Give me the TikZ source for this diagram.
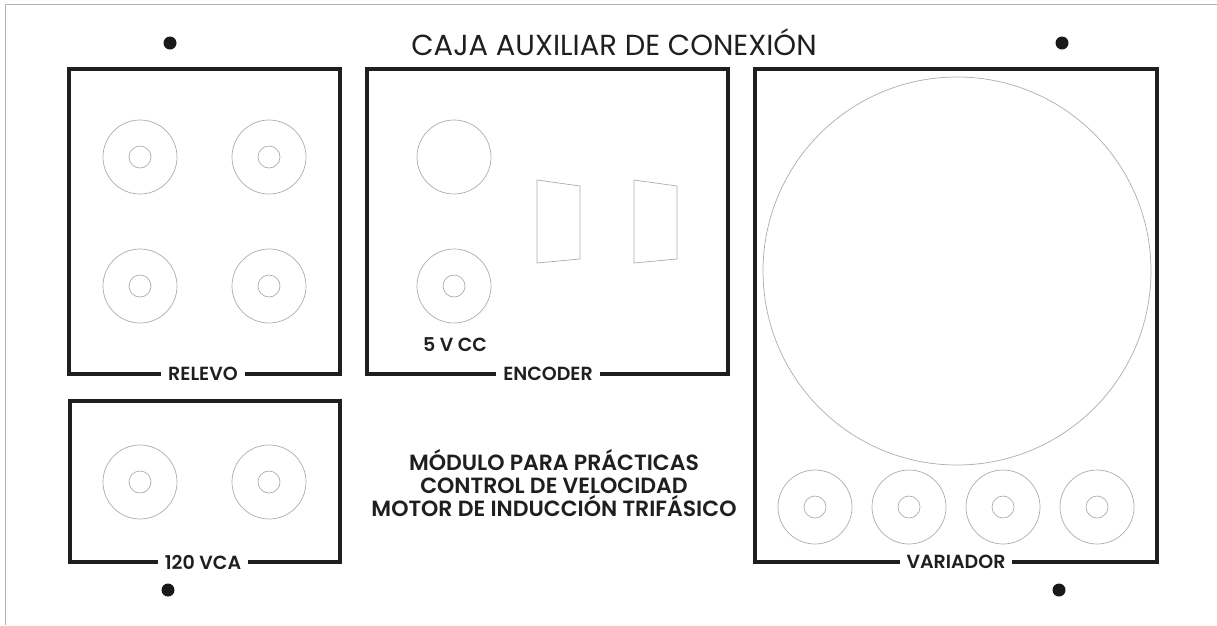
\documentclass[tikz,border=0pt]{standalone}
\usepackage{fontspec}
\setmainfont{Poppins}
\newfontfamily\medfont{Poppins SemiBold}
\usetikzlibrary{calc}

\tikzset{
  panel/.style={draw=black!88, line width=4.5pt},
  jack/.style={draw=black!32, line width=0.7pt},
  tag/.style={fill=white, inner xsep=7pt, inner ysep=1pt, text=black!88,
    font=\medfont\fontsize{19}{19}\selectfont},
  screw/.style={fill=black!90}
}

\begin{document}
\begin{tikzpicture}[x=1pt,y=-1pt]
\useasboundingbox (0,0) rectangle (1217,625);
\fill[white] (0,0) rectangle (1217,625);
\draw[black!30, line width=1pt] (5,625) -- (5,4) -- (1217,4);

% corners of the four panels
\coordinate (Rnw) at (69,69);
\coordinate (Rse) at (340,374);
\coordinate (Enw) at (367,69);
\coordinate (Ese) at (728,374);
\coordinate (Vnw) at (70,401);
\coordinate (Vse) at (340,562);
\coordinate (Dnw) at (755,69);
\coordinate (Dse) at (1157,562);

\draw[panel] (Rnw) rectangle (Rse);
\draw[panel] (Enw) rectangle (Ese);
\draw[panel] (Vnw) rectangle (Vse);
\draw[panel] (Dnw) rectangle (Dse);

% screws
\fill[screw] (170,43) circle (6.5pt);
\fill[screw] (1062,43) circle (6.5pt);
\fill[screw] (168,590) circle (6.5pt);
\fill[screw] (1059,590) circle (6.5pt);

% banana jacks
\foreach \x/\y in {140/157, 269/157, 140/286, 269/286,
                   140/482, 269/482, 454/286,
                   815/507, 909/507, 1003/507, 1097/507}
{
  \draw[jack] (\x,\y) circle (37pt);
  \draw[jack] (\x,\y) circle (11pt);
}
\draw[jack] (454,157) circle (37pt);

% connectors of the encoder
\foreach \x in {537,634}
  \draw[jack] (\x,180) -- (\x+43,186) -- (\x+43,259) -- (\x,263) -- cycle;

% speed drive display
\draw[jack] (957,271) circle (194pt);

% labels
\node[font=\fontsize{29}{29}\selectfont, text=black!88] (title) at (614,42) {CAJA AUXILIAR DE CONEXIÓN};
\node[tag] (relevo) at (203,374) {RELEVO};
\node[tag] (encoder) at (548,374) {ENCODER};
\node[tag] (vca) at (203,562) {120 VCA};
\node[tag] (variador) at (956,562) {VARIADOR};
\node[font=\medfont\fontsize{19}{19}\selectfont, text=black!88] (cc) at (455,345) {5 V CC};
\node[align=center, text=black!88, font=\medfont\fontsize{22}{23}\selectfont] (modulo) at (554,483)
  {MÓDULO PARA PRÁCTICAS\\CONTROL DE VELOCIDAD\\MOTOR DE INDUCCIÓN TRIFÁSICO};
\end{tikzpicture}
\end{document}
